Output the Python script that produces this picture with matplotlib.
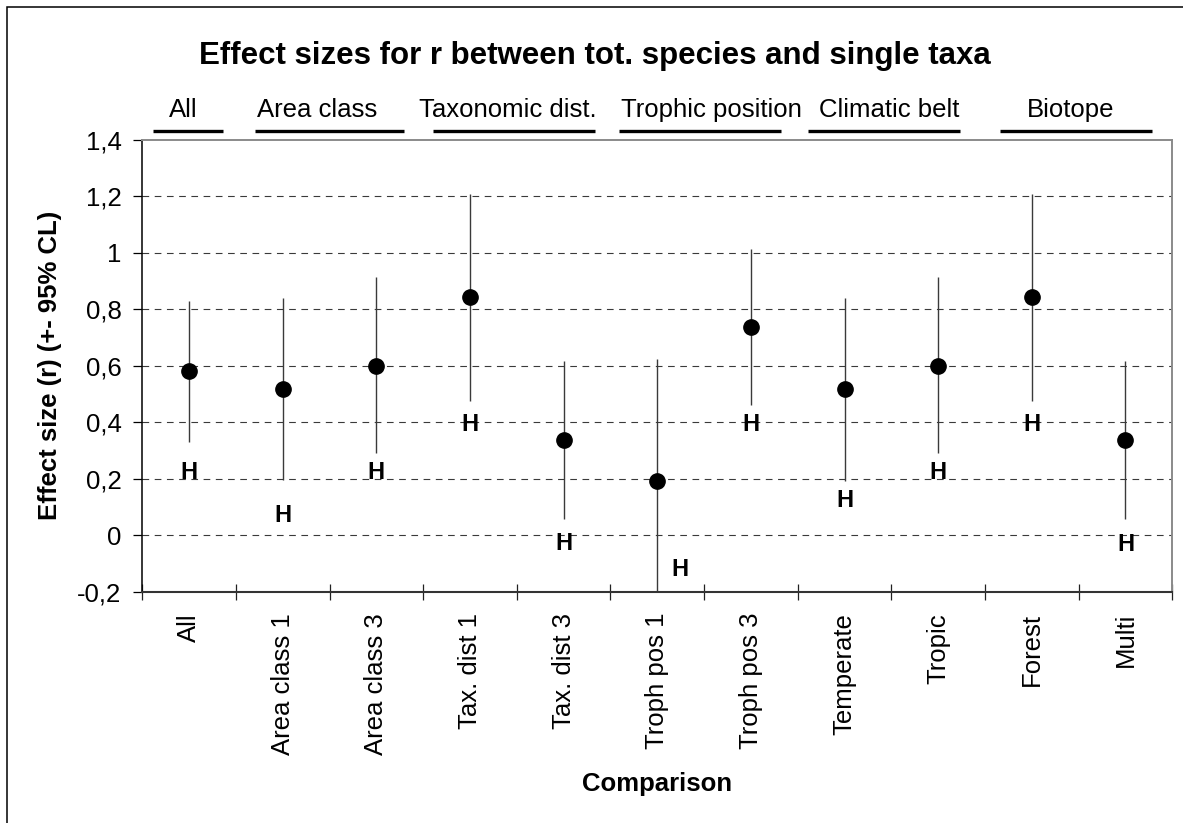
import matplotlib
matplotlib.use("Agg")
import matplotlib.pyplot as plt
import matplotlib.transforms as mtrans
from matplotlib.patches import Rectangle
from matplotlib.ticker import FuncFormatter
import numpy as np

plt.rcParams['font.family'] = ['Liberation Sans', 'DejaVu Sans']
plt.rcParams['lines.scale_dashes'] = False

# effect sizes with 95% confidence limits
comparisons = ['All', 'Area class 1', 'Area class 3', 'Tax. dist 1', 'Tax. dist 3',
               'Troph pos 1', 'Troph pos 3', 'Temperate', 'Tropic', 'Forest', 'Multi']
effect_r = [0.58, 0.516, 0.60, 0.842, 0.336, 0.19, 0.737, 0.516, 0.60, 0.842, 0.336]
ci_low = [0.331, 0.195, 0.290, 0.476, 0.056, -0.244, 0.459, 0.192, 0.290, 0.476, 0.056]
ci_high = [0.829, 0.840, 0.913, 1.206, 0.616, 0.622, 1.014, 0.840, 0.913, 1.206, 0.616]

# "H" markers under the intervals
h_label_y = [0.23, 0.077, 0.23, 0.40, -0.02, -0.112, 0.40, 0.13, 0.23, 0.40, -0.025]
h_label_dx = [0, 0, 0, 0, 0, 0.245, 0, 0, 0, 0, 0]

# grouping headers above the plot
groups = ['All', 'Area class', 'Taxonomic dist.', 'Trophic position', 'Climatic belt', 'Biotope']
group_label_x = [-0.06, 1.37, 3.40, 5.58, 7.48, 9.41]
group_bar_start = [-0.39, 0.70, 2.60, 4.59, 6.61, 8.66]
group_bar_end = [0.36, 2.29, 4.33, 6.32, 8.23, 10.28]

y_ticks = [-0.2, 0, 0.2, 0.4, 0.6, 0.8, 1.0, 1.2, 1.4]

W, H = 1183, 823
fig = plt.figure(figsize=(W / 100, H / 100), dpi=100)
fig.patch.set_facecolor('white')

ax_l, ax_r, ax_t, ax_b = 142.3, 1172.3, 139.5, 591.7
ax = fig.add_axes([ax_l / W, 1 - ax_b / H, (ax_r - ax_l) / W, (ax_b - ax_t) / H])

x = np.arange(len(comparisons))

ax.vlines(x, ci_low, ci_high, color='#3a3a3a', lw=1.0, zorder=2)
ax.plot(x, effect_r, 'o', color='black', ms=11, zorder=3)

for xi, dx, hy in zip(x, h_label_dx, h_label_y):
    ax.text(xi + dx, hy, 'H', fontsize=17, fontweight='bold',
            ha='center', va='center_baseline', zorder=4)

ax.set_xlim(-0.5, len(comparisons) - 0.5)
ax.set_ylim(y_ticks[0], y_ticks[-1])

# dashed horizontal grid
ax.set_yticks(y_ticks)
ax.yaxis.set_major_formatter(FuncFormatter(lambda v, p: f"{round(v, 1):g}".replace('.', ',')))
ax.yaxis.grid(True, linestyle=(0, (4.8, 4.0)), color='#3a3a3a', lw=0.8)
ygl = ax.get_ygridlines()
ygl[0].set_visible(False)
ygl[-1].set_visible(False)

# category boundaries as major ticks, names on minor ticks
ax.set_xticks(np.arange(-0.5, len(comparisons)))
ax.set_xticks(x, minor=True)
ax.set_xticklabels(comparisons, minor=True, rotation=90, fontsize=18.5)
ax.tick_params(axis='x', which='major', direction='inout', length=11.5, width=0.9,
               labelbottom=False, color='#222222')
ax.tick_params(axis='x', which='minor', length=0, pad=15.3)
ax.tick_params(axis='y', direction='out', length=6.5, width=0.9, labelsize=18.5, pad=8.4)

ax.spines['left'].set_color('black')
ax.spines['left'].set_linewidth(1.1)
ax.spines['bottom'].set_color('#333333')
ax.spines['bottom'].set_linewidth(1.5)
for s in ['top', 'right']:
    ax.spines[s].set_color('#8a8a8a')
    ax.spines[s].set_linewidth(1.4)

# group headers with underline bars
hdr = mtrans.blended_transform_factory(ax.transData, fig.transFigure)
for name, gx, x0, x1 in zip(groups, group_label_x, group_bar_start, group_bar_end):
    ax.text(gx, 1 - 107.5 / H, name, transform=hdr, fontsize=18.5,
            ha='center', va='center_baseline', clip_on=False)
    ax.plot([x0, x1], [1 - 131 / H] * 2, transform=hdr, color='black',
            lw=2.4, solid_capstyle='butt', clip_on=False)

fig.text(595 / W, 1 - 52.5 / H, 'Effect sizes for r between tot. species and single taxa',
         fontsize=22.5, fontweight='bold', ha='center', va='center_baseline')
fig.text(47.5 / W, 1 - (ax_t + ax_b) / 2 / H, 'Effect size (r) (+- 95% CL)',
         fontsize=18.5, fontweight='bold', rotation=90, rotation_mode='anchor',
         ha='center', va='center_baseline')
fig.text((ax_l + ax_r) / 2 / W, 1 - 782 / H, 'Comparison',
         fontsize=18.5, fontweight='bold', ha='center', va='center_baseline')

# chart frame, runs off the right and bottom edges
fig.patches.append(Rectangle((7.3 / W, -0.1), 1.2, 1.1 - 7.3 / H,
                             transform=fig.transFigure, fill=False,
                             ec='black', lw=1.1))

fig.savefig('out.png', dpi=100)
